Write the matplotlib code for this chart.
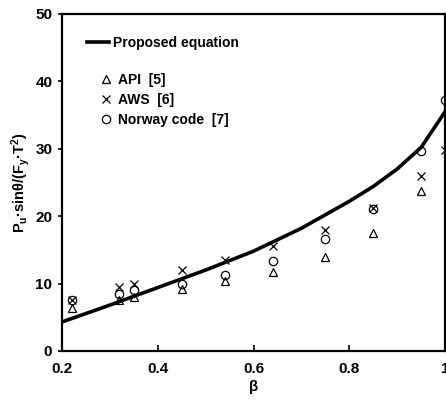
import matplotlib
matplotlib.use("Agg")
import matplotlib.pyplot as plt

plt.rcParams["font.family"] = ["Liberation Sans", "DejaVu Sans"]
plt.rcParams["font.weight"] = "bold"
plt.rcParams["mathtext.fontset"] = "custom"
plt.rcParams["mathtext.rm"] = "Liberation Sans:bold"
plt.rcParams["mathtext.it"] = "Liberation Sans:bold"
plt.rcParams["mathtext.bf"] = "Liberation Sans:bold"

# proposed equation curve
beta_curve = [0.2, 0.3, 0.4, 0.5, 0.6, 0.7, 0.8, 0.85, 0.9, 0.95, 1.0]
proposed = [4.3, 6.8, 9.4, 12.0, 14.8, 18.2, 22.2, 24.4, 27.0, 30.2, 35.5]

# code values
beta_api = [0.22, 0.32, 0.35, 0.45, 0.54, 0.64, 0.75, 0.85, 0.95]
api = [6.3, 7.5, 8.0, 9.2, 10.3, 11.7, 14.0, 17.5, 23.8]
beta_pts = [0.22, 0.32, 0.35, 0.45, 0.54, 0.64, 0.75, 0.85, 0.95, 1.0]
aws = [7.6, 9.5, 10.0, 12.0, 13.5, 15.5, 18.0, 21.2, 26.0, 29.8]
norway = [7.5, 8.5, 9.0, 10.0, 11.2, 13.3, 16.6, 21.0, 29.7, 37.2]

fig = plt.figure(figsize=(4.46, 4.09), dpi=100)
ax = fig.add_axes([0.139, 0.142, 0.859, 0.824])

line, = ax.plot(beta_curve, proposed, color="black", lw=2.6)
tri, = ax.plot(beta_api, api, ls="none", marker="^", ms=6, mfc="none",
               mec="black", mew=0.9)
crs, = ax.plot(beta_pts, aws, ls="none", marker="x", ms=6, color="black",
               mew=0.9)
cir, = ax.plot(beta_pts, norway, ls="none", marker="o", ms=6, mfc="none",
               mec="black", mew=0.9)

ax.set_xlim(0.2, 1.0)
ax.set_ylim(0, 50)
ax.set_xticks([0.2, 0.4, 0.6, 0.8, 1.0])
ax.set_xticklabels(["0.2", "0.4", "0.6", "0.8", "1"])
ax.set_yticks([0, 10, 20, 30, 40, 50])

for s in ax.spines.values():
    s.set_linewidth(1.6)
ax.tick_params(axis="x", direction="in", length=4, width=1.2, labelsize=11, pad=8)
ax.tick_params(axis="y", direction="out", length=3, width=1.2, labelsize=11, pad=4)

ax.set_xlabel("β", fontsize=11, fontweight="bold", labelpad=3)
ax.set_ylabel(r"P$_\mathrm{u}$·sinθ/(F$_\mathrm{y}$·T$^\mathrm{2}$)",
              fontsize=10.5, fontweight="bold", labelpad=2)

leg1 = ax.legend([line], ["Proposed equation"], loc="upper left",
                 bbox_to_anchor=(0.05, 0.951), frameon=False, fontsize=10,
                 handlelength=1.6, handletextpad=0.3, borderaxespad=0)
ax.add_artist(leg1)
ax.legend([tri, crs, cir], ["API  [5]", "AWS  [6]", "Norway code  [7]"],
          loc="upper left", bbox_to_anchor=(0.085, 0.842), frameon=False,
          fontsize=10, handlelength=0.8, handletextpad=0.5, labelspacing=0.45,
          borderaxespad=0)

fig.savefig("out.png", dpi=100)
